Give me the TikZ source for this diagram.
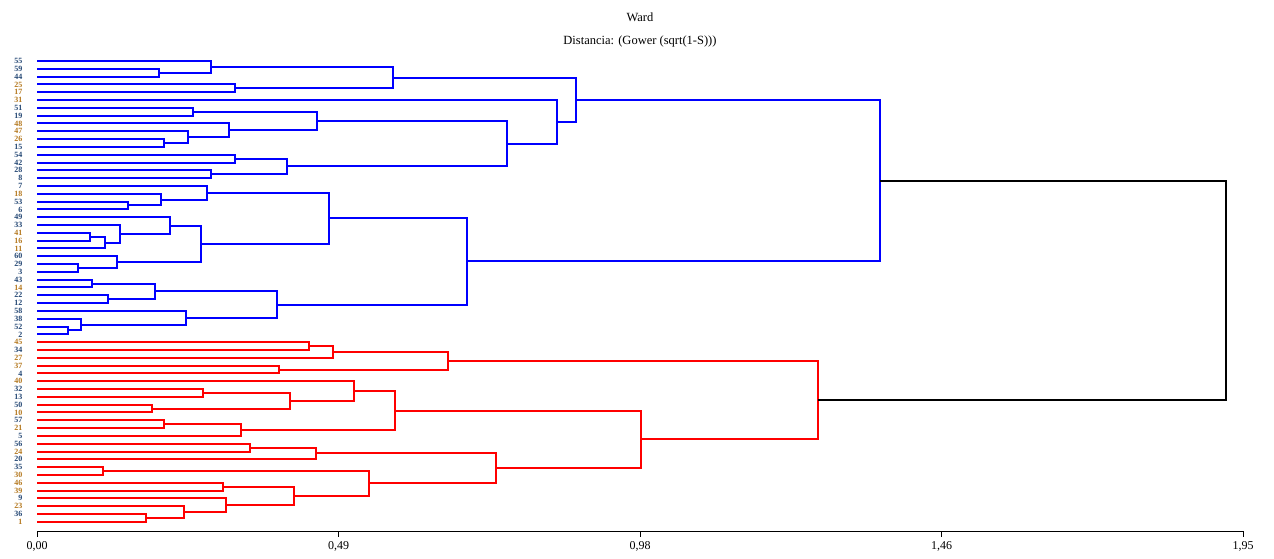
\documentclass[tikz,border=0pt]{standalone}
\usepackage{fontspec}
\setmainfont{Liberation Serif}
\usetikzlibrary{calc}

\definecolor{treeblue}{RGB}{0,0,255}
\definecolor{treered}{RGB}{255,0,0}
\definecolor{labB}{RGB}{35,70,115}
\definecolor{labO}{RGB}{180,120,30}

\tikzset{
  leaflab/.style={anchor=east, inner sep=0pt, font=\fontsize{8}{8}\selectfont\bfseries},
  branch/.style={line width=2pt, line join=miter},
  ticklab/.style={font=\fontsize{12}{14}\selectfont, inner sep=0pt},
  titlelab/.style={font=\fontsize{12.5}{14}\selectfont, inner sep=0pt}
}

% join two clusters at distance x (in px)
\newcommand{\merge}[5]{%
  \path let \p1=($(#2)!0.5!(#3)$) in coordinate (#1) at (#4pt,\y1);
  \draw[branch,#5] (#2) -| (#1) |- (#3);}

\begin{document}
\begin{tikzpicture}[x=1pt, y=-1pt]
  \useasboundingbox (0,0) rectangle (1274,558);

  % titles
  \node[titlelab] (title) at (640,17) {Ward};
  \node[titlelab] (subtitle) at (640,41) {Distancia: (Gower (sqrt(1-S)))};

  % leaves
  \foreach \lab/\col [count=\i from 0] in {55/labB,59/labB,44/labB,25/labO,17/labO,31/labO,51/labB,19/labB,48/labO,47/labO,
      26/labO,15/labB,54/labB,42/labB,28/labB,8/labB,7/labB,18/labO,53/labB,6/labB,
      49/labB,33/labB,41/labO,16/labO,11/labO,60/labB,29/labB,3/labB,43/labB,14/labO,
      22/labB,12/labB,58/labB,38/labB,52/labB,2/labB,45/labO,34/labB,27/labO,37/labO,
      4/labB,40/labO,32/labB,13/labB,50/labB,10/labO,57/labB,21/labO,5/labB,56/labB,
      24/labO,20/labB,35/labB,30/labO,46/labO,39/labO,9/labB,23/labO,36/labB,1/labO}{
    \node[leaflab, text=\col] (t\lab) at (22.5, 61+7.81*\i) {\lab};
    \coordinate (l\lab) at (37, 61+7.81*\i);
  }

  % blue cluster
  \merge{a1}{l59}{l44}{159}{treeblue}
  \merge{a2}{l55}{a1}{211}{treeblue}
  \merge{a3}{l25}{l17}{235}{treeblue}
  \merge{a4}{a2}{a3}{393}{treeblue}
  \merge{a5}{l51}{l19}{193}{treeblue}
  \merge{a6}{l26}{l15}{164}{treeblue}
  \merge{a7}{l47}{a6}{188}{treeblue}
  \merge{a8}{l48}{a7}{229}{treeblue}
  \merge{a9}{a5}{a8}{317}{treeblue}
  \merge{a10}{l54}{l42}{235}{treeblue}
  \merge{a11}{l28}{l8}{211}{treeblue}
  \merge{a12}{a10}{a11}{287}{treeblue}
  \merge{a13}{a9}{a12}{507}{treeblue}
  \merge{a14}{l31}{a13}{557}{treeblue}
  \merge{a15}{a4}{a14}{576}{treeblue}
  \merge{a16}{l53}{l6}{128}{treeblue}
  \merge{a17}{l18}{a16}{161}{treeblue}
  \merge{a18}{l7}{a17}{207}{treeblue}
  \merge{a19}{l41}{l16}{90}{treeblue}
  \merge{a20}{a19}{l11}{105}{treeblue}
  \merge{a21}{l33}{a20}{120}{treeblue}
  \merge{a22}{l49}{a21}{170}{treeblue}
  \merge{a23}{l29}{l3}{78}{treeblue}
  \merge{a24}{l60}{a23}{117}{treeblue}
  \merge{a25}{a22}{a24}{201}{treeblue}
  \merge{a26}{a18}{a25}{329}{treeblue}
  \merge{a27}{l43}{l14}{92}{treeblue}
  \merge{a28}{l22}{l12}{108}{treeblue}
  \merge{a29}{a27}{a28}{155}{treeblue}
  \merge{a30}{l52}{l2}{68}{treeblue}
  \merge{a31}{l38}{a30}{81}{treeblue}
  \merge{a32}{l58}{a31}{186}{treeblue}
  \merge{a33}{a29}{a32}{277}{treeblue}
  \merge{a34}{a26}{a33}{467}{treeblue}
  \merge{a35}{a15}{a34}{880}{treeblue}

  % red cluster
  \merge{b1}{l45}{l34}{309}{treered}
  \merge{b2}{b1}{l27}{333}{treered}
  \merge{b3}{l37}{l4}{279}{treered}
  \merge{b4}{b2}{b3}{448}{treered}
  \merge{b5}{l32}{l13}{203}{treered}
  \merge{b6}{l50}{l10}{152}{treered}
  \merge{b7}{b5}{b6}{290}{treered}
  \merge{b8}{l40}{b7}{354}{treered}
  \merge{b9}{l57}{l21}{164}{treered}
  \merge{b10}{b9}{l5}{241}{treered}
  \merge{b11}{b8}{b10}{395}{treered}
  \merge{b12}{l56}{l24}{250}{treered}
  \merge{b13}{b12}{l20}{316}{treered}
  \merge{b14}{l35}{l30}{103}{treered}
  \merge{b15}{l46}{l39}{223}{treered}
  \merge{b16}{l36}{l1}{146}{treered}
  \merge{b17}{l23}{b16}{184}{treered}
  \merge{b18}{l9}{b17}{226}{treered}
  \merge{b19}{b15}{b18}{294}{treered}
  \merge{b20}{b14}{b19}{369}{treered}
  \merge{b21}{b13}{b20}{496}{treered}
  \merge{b22}{b11}{b21}{641}{treered}
  \merge{b23}{b4}{b22}{818}{treered}

  % root
  \merge{root}{a35}{b23}{1226}{black}

  % distance axis
  \coordinate (ax0) at (37,531);
  \coordinate (ax1) at (1243,531);
  \draw[line width=1pt] (ax0) -- (ax1);
  \foreach \k/\v in {0/{0,00},1/{0,49},2/{0,98},3/{1,46},4/{1,95}}{
    \coordinate (tk\k) at ($(ax0)!\k/4!(ax1)$);
    \draw[line width=1pt] (tk\k) -- ++(0,6);
    \node[ticklab] (v\k) at ($(tk\k)+(0,15)$) {\v};
  }
\end{tikzpicture}
\end{document}
